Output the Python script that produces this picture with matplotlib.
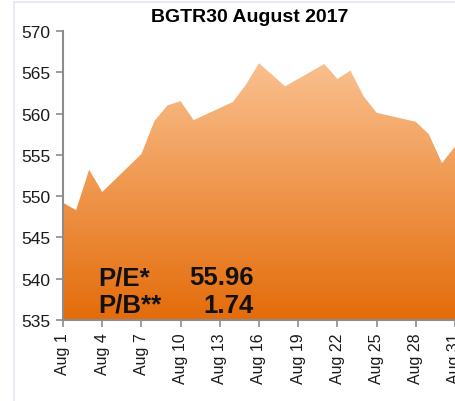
import matplotlib
matplotlib.use("Agg")
import matplotlib.pyplot as plt
import numpy as np
from matplotlib.colors import LinearSegmentedColormap
from matplotlib.patches import Rectangle

# Data (day of August 2017, index value)
days = [1, 2, 3, 4, 7, 8, 9, 10, 11, 14, 15, 16, 18, 21, 22, 23, 24, 25, 28, 29, 30, 31]
values = [549.2, 548.3, 553.2, 550.5, 555.1, 559.1, 561.0, 561.5, 559.2, 561.4, 563.5, 566.1,
          563.3, 566.0, 564.2, 565.2, 562.1, 560.1, 559.0, 557.5, 554.0, 556.0]
tick_days = [1, 4, 7, 10, 13, 16, 19, 22, 25, 28, 31]
tick_labels = ["Aug %d" % d for d in tick_days]
y_ticks = [535, 540, 545, 550, 555, 560, 565, 570]
title = "BGTR30 August 2017"
pe_label, pe_value = "P/E*", "55.96"
pb_label, pb_value = "P/B**", "1.74"

plt.rcParams['font.family'] = ['Liberation Sans', 'DejaVu Sans']

fig = plt.figure(figsize=(4.56, 4.02), dpi=100)
fig.patch.set_facecolor("white")
# light frame
fig.patches.append(Rectangle((14 / 456, -0.1), 1.2, 1 - 3 / 402 + 0.1, transform=fig.transFigure,
                             fill=False, edgecolor="#E3E9F0", linewidth=1.2))

ax = fig.add_axes([63 / 456, 1 - 321 / 402, (455 - 63) / 456, (321 - 32) / 402])
ax.set_xlim(1, 31)
ax.set_ylim(535, 570)

poly = ax.fill_between(days, values, 535, color="none", linewidth=0)
cmap = LinearSegmentedColormap.from_list("og", [(228/255, 108/255, 10/255), (250/255, 192/255, 143/255)])
grad = np.linspace(0, 1, 256).reshape(-1, 1)
im = ax.imshow(grad, extent=[1, 31, 535, 566.2], origin="lower", aspect="auto", cmap=cmap,
               interpolation="bicubic", zorder=1)
path = poly.get_paths()[0]
im.set_clip_path(path, transform=ax.transData)

for s in ["top", "right"]:
    ax.spines[s].set_visible(False)
for s in ["left", "bottom"]:
    ax.spines[s].set_color("#8C8C8C")
    ax.spines[s].set_linewidth(1.5)
    ax.spines[s].set_zorder(3)

ax.set_yticks(y_ticks)
ax.set_yticklabels([str(v) for v in y_ticks], fontsize=12.5)
ax.set_xticks(tick_days)
ax.set_xticklabels(tick_labels, rotation=90, fontsize=11.5)
ax.tick_params(axis="both", colors="#8C8C8C", length=5, width=1.2, labelcolor="#1a1a1a")
ax.tick_params(axis="y", pad=4)
ax.tick_params(axis="x", pad=4)

fig.text(250 / 456, 1 - 17 / 402, title, ha="center", va="center", fontsize=14, fontweight="bold")

kw = dict(fontsize=18.5, fontweight="bold", va="baseline", color="#111111", transform=fig.transFigure)
fig.text(98 / 456, 1 - 285 / 402, pe_label, ha="left", **kw)
fig.text(254 / 456, 1 - 285 / 402, pe_value, ha="right", **kw)
fig.text(98 / 456, 1 - 313 / 402, pb_label, ha="left", **kw)
fig.text(254 / 456, 1 - 313 / 402, pb_value, ha="right", **kw)

fig.savefig("out.png", dpi=100)
